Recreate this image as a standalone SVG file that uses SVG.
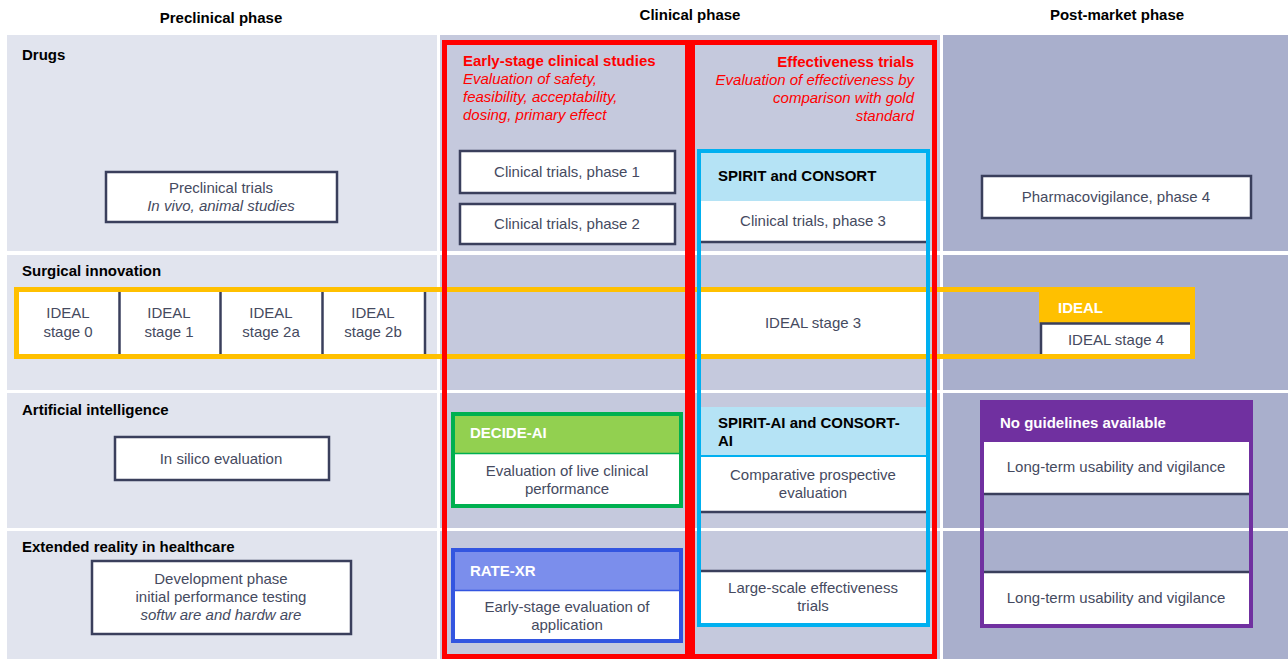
<svg xmlns="http://www.w3.org/2000/svg" width="1288" height="659" viewBox="0 0 1288 659">
<style>
text{font-family:"Liberation Sans",Arial,sans-serif;}
.ph{font-size:15px;font-weight:bold;fill:#000;text-anchor:middle;}
.rl{font-size:15px;font-weight:bold;fill:#000;}
.bx{fill:#fff;stroke:#3a3f5c;stroke-width:2.5;}
.t{font-size:15px;fill:#454a60;text-anchor:middle;}
.ti{font-size:15px;fill:#454a60;text-anchor:middle;font-style:italic;}
.rt{font-size:15px;font-weight:bold;fill:#ff0000;}
.ri{font-size:15px;font-style:italic;fill:#ff0000;}
.hw{font-size:15px;font-weight:bold;fill:#fff;}
.hb{font-size:15px;font-weight:bold;fill:#000;}
.pre{fill:#e1e4ee;}
.cli{fill:#c5c9dd;}
.post{fill:#a9afcc;}
.dl{stroke:#3a3f5c;stroke-width:2.5;}
</style>
<rect width="1288" height="659" fill="#fff"/>
<g id="backgrounds">
<rect class="pre" x="7" y="35" width="430" height="216"/>
<rect class="pre" x="7" y="255" width="430" height="135"/>
<rect class="pre" x="7" y="393" width="430" height="135"/>
<rect class="pre" x="7" y="531" width="430" height="128"/>
<rect class="cli" x="440" y="35" width="500" height="216"/>
<rect class="cli" x="440" y="255" width="500" height="135"/>
<rect class="cli" x="440" y="393" width="500" height="135"/>
<rect class="cli" x="440" y="531" width="500" height="128"/>
<rect class="post" x="943" y="35" width="345" height="216"/>
<rect class="post" x="943" y="255" width="345" height="135"/>
<rect class="post" x="943" y="393" width="345" height="135"/>
<rect class="post" x="943" y="531" width="345" height="128"/>
</g>
<g id="headers">
<text class="ph" x="221" y="23">Preclinical phase</text>
<text class="ph" x="690" y="20">Clinical phase</text>
<text class="ph" x="1117" y="20">Post-market phase</text>
<text class="rl" x="22" y="60">Drugs</text>
<text class="rl" x="22" y="276">Surgical innovation</text>
<text class="rl" x="22" y="415">Artificial intelligence</text>
<text class="rl" x="22" y="552">Extended reality in healthcare</text>
</g>
<g id="preclinical-trials">
<rect class="bx" x="106" y="172" width="231" height="50"/>
<text class="t" x="221" y="193">Preclinical trials</text>
<text class="ti" x="221" y="211">In vivo, animal studies</text>
</g>
<g id="ideal-band">
<rect x="16.5" y="289.5" width="1176" height="67" fill="none" stroke="#ffc000" stroke-width="5"/>
<rect x="19" y="292" width="405" height="62" fill="#fff"/>
<line class="dl" x1="119.5" y1="292" x2="119.5" y2="354" stroke-width="3"/>
<line class="dl" x1="220.5" y1="292" x2="220.5" y2="354" stroke-width="3"/>
<line class="dl" x1="322.5" y1="292" x2="322.5" y2="354" stroke-width="3"/>
<line class="dl" x1="425" y1="292" x2="425" y2="354" stroke-width="2"/>
<text class="t" x="68" y="318">IDEAL</text><text class="t" x="68" y="337">stage 0</text>
<text class="t" x="169" y="318">IDEAL</text><text class="t" x="169" y="337">stage 1</text>
<text class="t" x="271" y="318">IDEAL</text><text class="t" x="271" y="337">stage 2a</text>
<text class="t" x="373" y="318">IDEAL</text><text class="t" x="373" y="337">stage 2b</text>
</g>
<g id="ideal-stage3">
<rect x="701" y="292" width="225" height="62" fill="#fff"/>
<text class="t" x="813" y="328">IDEAL stage 3</text>
</g>
<g id="ideal-stage4">
<rect x="1039" y="287" width="156" height="36" fill="#ffc000"/>
<text class="hw" x="1058" y="313">IDEAL</text>
<rect x="1041" y="323" width="149" height="31" fill="#fff"/>
<path d="M1041 354 V323.5 H1190" fill="none" stroke="#3a3f5c" stroke-width="2.5"/>
<text class="t" x="1116" y="345">IDEAL stage 4</text>
</g>
<g id="phase1">
<rect class="bx" x="460" y="151" width="215" height="42"/>
<text class="t" x="567" y="177">Clinical trials, phase 1</text>
</g>
<g id="phase2">
<rect class="bx" x="460" y="204" width="215" height="40"/>
<text class="t" x="567" y="229">Clinical trials, phase 2</text>
</g>
<g id="spirit-consort">
<rect x="701" y="153" width="225" height="48" fill="#b5e3f5"/>
<text class="hb" x="718" y="181">SPIRIT and CONSORT</text>
<rect x="701" y="201" width="225" height="41" fill="#fff"/>
<line class="dl" x1="701" y1="242" x2="926" y2="242"/>
<text class="t" x="813" y="226">Clinical trials, phase 3</text>
</g>
<g id="spirit-ai">
<rect x="701" y="407" width="225" height="49" fill="#b5e3f5"/>
<line x1="701" y1="456" x2="926" y2="456" stroke="#00b0f0" stroke-width="2"/>
<text class="hb" x="718" y="428">SPIRIT-AI and CONSORT-</text>
<text class="hb" x="718" y="446">AI</text>
<rect x="701" y="457" width="225" height="55" fill="#fff"/>
<line class="dl" x1="701" y1="512" x2="926" y2="512"/>
<text class="t" x="813" y="480">Comparative prospective</text>
<text class="t" x="813" y="498">evaluation</text>
</g>
<g id="large-scale">
<rect x="701" y="571" width="225" height="52" fill="#fff"/>
<line class="dl" x1="701" y1="571" x2="926" y2="571"/>
<text class="t" x="813" y="593">Large-scale effectiveness</text>
<text class="t" x="813" y="611">trials</text>
</g>
<g id="spirit-frame">
<rect x="699" y="151" width="229" height="474" fill="none" stroke="#00b0f0" stroke-width="4"/>
</g>
<g id="decide-ai">
<rect x="453" y="414" width="228" height="92" fill="#fff" stroke="#00b050" stroke-width="4"/>
<rect x="455" y="416" width="224" height="37" fill="#92d050"/>
<line x1="455" y1="453.5" x2="679" y2="453.5" stroke="#00b050" stroke-width="1.5"/>
<text class="hw" x="470" y="438">DECIDE-AI</text>
<text class="t" x="567" y="476">Evaluation of live clinical</text>
<text class="t" x="567" y="494">performance</text>
</g>
<g id="rate-xr">
<rect x="453" y="550" width="228" height="91" fill="#fff" stroke="#3355e0" stroke-width="4"/>
<rect x="455" y="552" width="224" height="38" fill="#7b8eec"/>
<line x1="455" y1="590.5" x2="679" y2="590.5" stroke="#3355e0" stroke-width="1.5"/>
<text class="hw" x="470" y="576">RATE-XR</text>
<text class="t" x="567" y="612">Early-stage evaluation of</text>
<text class="t" x="567" y="630">application</text>
</g>
<g id="early-stage">
<rect x="444.5" y="42.5" width="243" height="614" fill="none" stroke="#ff0000" stroke-width="5"/>
<text class="rt" x="463" y="66">Early-stage clinical studies</text>
<text class="ri" x="463" y="84">Evaluation of safety,</text>
<text class="ri" x="463" y="102">feasibility, acceptability,</text>
<text class="ri" x="463" y="120">dosing, primary effect</text>
</g>
<g id="effectiveness">
<rect x="692.5" y="42.5" width="242" height="614" fill="none" stroke="#ff0000" stroke-width="5"/>
<text class="rt" x="914" y="67" text-anchor="end">Effectiveness trials</text>
<text class="ri" x="914" y="85" text-anchor="end">Evaluation of effectiveness by</text>
<text class="ri" x="914" y="103" text-anchor="end">comparison with gold</text>
<text class="ri" x="914" y="121" text-anchor="end">standard</text>
</g>
<g id="pharmacovigilance">
<rect class="bx" x="982" y="176" width="269" height="42"/>
<text class="t" x="1116" y="202">Pharmacovigilance, phase 4</text>
</g>
<g id="in-silico">
<rect class="bx" x="115" y="437" width="214" height="43"/>
<text class="t" x="221" y="464">In silico evaluation</text>
</g>
<g id="development">
<rect class="bx" x="92" y="561" width="259" height="73"/>
<text class="t" x="221" y="584">Development phase</text>
<text class="t" x="221" y="602">initial performance testing</text>
<text class="ti" x="221" y="620">softw are and hardw are</text>
</g>
<g id="no-guidelines">
<rect x="982" y="402" width="269" height="224" fill="none" stroke="#7030a0" stroke-width="4"/>
<rect x="984" y="404" width="265" height="38" fill="#7030a0"/>
<text class="hw" x="1000" y="428">No guidelines available</text>
<rect x="984" y="442" width="265" height="52" fill="#fff"/>
<line class="dl" x1="984" y1="494" x2="1249" y2="494"/>
<text class="t" x="1116" y="472">Long-term usability and vigilance</text>
<rect x="984" y="572" width="265" height="52" fill="#fff"/>
<line class="dl" x1="984" y1="572" x2="1249" y2="572"/>
<text class="t" x="1116" y="603">Long-term usability and vigilance</text>
</g>
<g id="connectors"></g>
</svg>
